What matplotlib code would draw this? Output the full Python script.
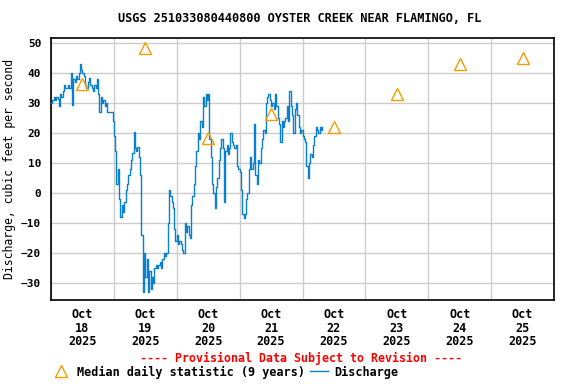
import pandas as pd
import matplotlib
matplotlib.use("Agg")
import matplotlib.pyplot as plt
import matplotlib.dates as mdates
from matplotlib.lines import Line2D

plt.rcParams['font.family'] = ['DejaVu Sans Mono']
plt.rcParams['font.weight'] = 'bold'
plt.rcParams['font.size'] = 8.5

# discharge, half-hourly from 2025-10-18 00:00 (cfs)
discharge = [
    30, 31, 32, 31, 32, 31.5, 29, 33, 32, 34, 36, 35, 35, 36, 35, 40,
    29.5, 38, 37, 39, 38, 40, 43, 41, 40, 39, 36, 35, 37, 38.5, 36, 35,
    34, 36, 35, 38, 33, 27, 32, 30, 31, 29, 30, 27, 27, 27, 27, 24,
    19, 14, 3, 8, -2, -8, -4, -6.5, -3, 1, 3, 6, 8, 11, 13.5, 20.5,
    15, 14, 15.5, 12, 6, -14, -33, -20, -28, -22, -33, -26, -32, -28, -30, -25,
    -24, -25, -24, -23, -25, -22, -20, -21, -20, -10, 1, -1, -3, -5, -12, -16,
    -14, -17, -16, -17, -19, -20, -10, -13, -11, -14, -15, -4, -1, 3, 9, 14,
    20, 18, 24, 22, 32, 29, 33, 31, 33, 18, 12, 3, 0, -5, 2, 5,
    11, 15, 18, 15, -3, 14, 16, 13, 15, 20, 17, 16, 15, 16, 9, 8,
    7, 1, -7, -8.5, -7, -2, 0, 8, 12, 8, 10, 23, 6, 3, 11, 10,
    15, 18, 21, 20, 30, 32, 33, 31, 29, 30, 28, 33, 29, 25, 23, 17,
    24, 22, 24, 25, 29, 24, 34, 29, 26, 20, 28, 30, 26, 22, 20, 21,
    19, 18, 17, 9, 5, 10, 13, 12, 16, 19, 22, 21, 20, 22, 21, 22,
]
times = pd.date_range("2025-10-18 00:00", periods=len(discharge), freq="30min")

median_days = pd.date_range("2025-10-18 12:00", periods=8, freq="D")
median_vals = [36.5, 48.5, 18.5, 26.5, 22, 33, 43, 45]

fig = plt.figure(figsize=(5.76, 3.84), dpi=100)
ax = fig.add_axes([51/576, 1 - 300/384, 503/576, 262/384])

ax.plot(times, discharge, color="#0a7fcf", lw=1.0, drawstyle="steps-post", zorder=3)
ax.plot(median_days, median_vals, ls="none", marker="^", ms=8, mfc="none",
        mec="#f59c00", mew=1.0, zorder=4)

ax.set_xlim(pd.Timestamp("2025-10-18"), pd.Timestamp("2025-10-26"))
ax.set_ylim(-35.7, 51.7)
ax.set_yticks(range(-30, 51, 10))

ax.xaxis.set_major_locator(mdates.DayLocator())
ax.xaxis.set_major_formatter(plt.NullFormatter())
ax.xaxis.set_minor_locator(mdates.HourLocator(byhour=12))
ax.xaxis.set_minor_formatter(mdates.DateFormatter("%b\n%d\n%Y"))
ax.tick_params(axis="x", which="both", length=0, pad=6)
ax.tick_params(axis="y", length=0, pad=7, labelsize=8)
for lab in ax.get_xticklabels(minor=True):
    lab.set_linespacing(1.05)

ax.grid(True, which="major", color="#cccccc", lw=1)
ax.set_axisbelow(True)
for s in ax.spines.values():
    s.set_linewidth(1.2)

ax.set_ylabel("Discharge, cubic feet per second", fontsize=8.3)
ax.yaxis.set_label_coords(-0.07, 0.5)

fig.text(0.521, 1 - 19/384, "USGS 251033080440800 OYSTER CREEK NEAR FLAMINGO, FL",
         ha="center", va="center", fontsize=8.6)
fig.text(0.523, 1 - 358/384, "---- Provisional Data Subject to Revision ----",
         ha="center", va="center", color="red", fontsize=8.4)

handles = [
    Line2D([], [], ls="none", marker="^", ms=8, mfc="none", mec="#f59c00", mew=1.0),
    Line2D([], [], color="#0a7fcf", lw=1.0),
]
fig.legend(handles, ["Median daily statistic (9 years)", "Discharge"],
           loc="center left", bbox_to_anchor=(52/576, 1 - 372/384), ncol=2,
           frameon=False, handlelength=1.6, handletextpad=0.5,
           columnspacing=0.4, borderpad=0, borderaxespad=0)

fig.savefig("out.png", dpi=100)
